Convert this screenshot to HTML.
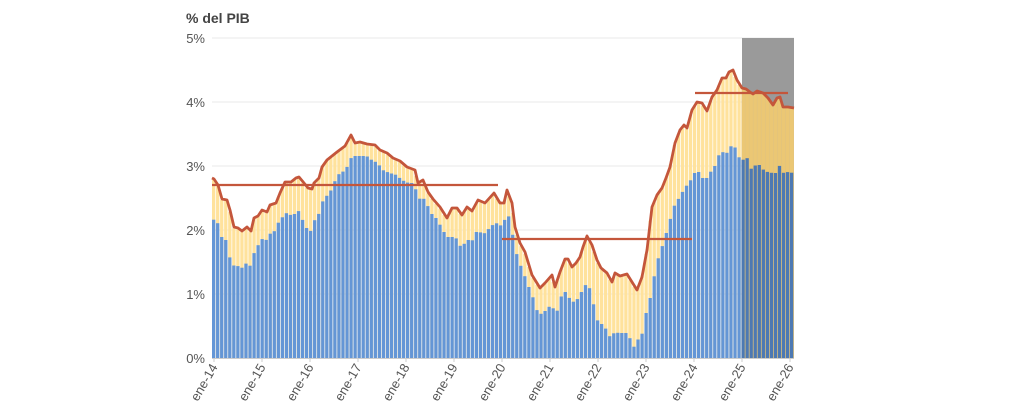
<!DOCTYPE html>
<html><head><meta charset="utf-8"><style>
html,body{margin:0;padding:0;background:#fff;width:1024px;height:412px;overflow:hidden}
svg{display:block;font-family:"Liberation Sans",sans-serif}
</style></head><body>
<svg id="c" width="1024" height="412" viewBox="0 0 1024 412" xmlns="http://www.w3.org/2000/svg">
<text x="186" y="23" font-size="14" font-weight="bold" fill="#444">% del PIB</text>
<g stroke="#e9e9e9" stroke-width="1">
<line x1="212" y1="38" x2="794" y2="38"/><line x1="212" y1="102" x2="794" y2="102"/>
<line x1="212" y1="166" x2="794" y2="166"/><line x1="212" y1="230" x2="794" y2="230"/>
<line x1="212" y1="294" x2="794" y2="294"/></g>
<g font-size="13" fill="#555" text-anchor="end">
<text x="205" y="43">5%</text><text x="205" y="107">4%</text><text x="205" y="171">3%</text>
<text x="205" y="235">2%</text><text x="205" y="299">1%</text><text x="205" y="363">0%</text></g>
<rect x="742" y="38" width="52" height="320" fill="#9a9a9a"/>
<g id="bars"></g>
<g id="xl" font-size="13" fill="#555" text-anchor="end"></g>
</svg>
<script>
var L=[[212,178],[214,179],[218,185],[222,199],[227,200],[230,210],[234,227],[238,228],[242,231],[247,227],[251,231],[254,218],[258,216],[262,210],[267,212],[270,205],[276,203],[280,193],[285,182],[291,182],[296,178],[299,177],[304,183],[308,188],[312,189],[314,183],[319,178],[322,167],[327,160],[337,152],[345,146],[351,135],[355,143],[360,142],[367,144],[375,145],[380,150],[387,153],[393,158],[400,161],[407,167],[415,170],[418,183],[423,180],[428,192],[433,199],[440,207],[447,218],[452,208],[457,208],[462,215],[467,207],[472,211],[478,200],[485,203],[494,193],[500,203],[504,203],[507,190],[512,203],[515,227],[520,243],[525,252],[532,275],[540,288],[545,283],[552,275],[555,287],[560,272],[565,259],[568,259],[572,267],[576,263],[580,257],[583,247],[587,236],[592,245],[597,260],[601,268],[607,273],[612,282],[615,273],[620,276],[627,274],[632,282],[637,290],[642,277],[647,250],[652,207],[657,195],[662,188],[666,178],[670,167],[675,143],[680,130],[684,125],[687,128],[692,110],[697,102],[702,103],[707,111],[712,97],[717,90],[722,78],[726,78],[729,72],[733,70],[737,80],[742,88],[746,89],[750,92],[753,94],[757,91],[763,93],[768,98],[773,105],[777,98],[780,97],[783,107],[788,107],[794,108]];
var B=[[212,218],[218,223],[223,240],[227,240],[230,257],[235,267],[238,266],[242,268],[247,263],[250,267],[254,254],[258,246],[262,239],[267,240],[271,233],[275,231],[279,222],[283,217],[287,213],[291,215],[295,214],[299,211],[302,218],[307,228],[311,231],[314,221],[318,218],[322,203],[327,196],[331,191],[338,175],[343,172],[347,168],[350,160],[353,156],[367,156],[372,160],[378,163],[383,170],[390,173],[397,175],[402,180],[409,183],[415,183],[418,200],[423,197],[427,203],[431,213],[435,216],[439,222],[443,230],[448,237],[456,237],[459,245],[463,247],[467,239],[472,242],[476,232],[480,232],[484,234],[490,228],[494,224],[498,223],[503,227],[507,213],[510,218],[515,245],[519,262],[523,269],[527,282],[532,293],[536,306],[539,315],[543,313],[548,309],[552,303],[556,317],[559,305],[563,292],[567,292],[572,303],[576,300],[580,298],[583,288],[588,283],[592,294],[595,310],[599,324],[603,324],[607,330],[611,338],[615,332],[619,333],[628,333],[632,342],[635,348],[639,338],[643,333],[647,310],[652,293],[656,267],[659,257],[663,245],[667,232],[671,218],[675,205],[680,197],[685,188],[690,182],[695,173],[699,172],[703,178],[708,178],[712,170],[716,165],[720,153],[724,152],[728,153],[732,145],[736,148],[739,157],[744,160],[748,158],[752,170],[756,165],[760,165],[764,170],[768,172],[773,173],[776,173],[779,164],[783,173],[787,172],[794,173]];
function f(A,x){for(var i=1;i<A.length;i++){if(x<=A[i][0]){var a=A[i-1],b=A[i];return a[1]+(b[1]-a[1])*(x-a[0])/(b[0]-a[0]);}}return A[A.length-1][1];}
var s='',w=582/144;
var pts=L.map(function(p){return p.join(',')}).join(' ');
s+='<polygon points="742,358 '+L.filter(function(p){return p[0]>=742}).map(function(p){return p.join(',')}).join(' ')+' 794,358" fill="#e3c47c"/>';
for(var i=0;i<144;i++){var x=212+i*w,cx=x+w/2,t=f(L,cx)+1,b=f(B,cx);var fc=cx>742;
 s+='<rect x="'+x.toFixed(2)+'" y="'+t.toFixed(1)+'" width="3.3" height="'+Math.max(0,358-t).toFixed(1)+'" fill="'+(fc?'#ebc774':'#ffe29c')+'"/>';
 s+='<rect x="'+x.toFixed(2)+'" y="'+b.toFixed(1)+'" width="3.3" height="'+(358-b).toFixed(1)+'" fill="'+(fc?'#4d79b3':'#6496d6')+'"/>';}
s+='<line x1="212" y1="358.5" x2="794" y2="358.5" stroke="#ccc"/>';
s+='<g stroke="#c4563b" stroke-width="2.2"><line x1="212" y1="185" x2="498" y2="185"/><line x1="502" y1="239" x2="692" y2="239"/><line x1="695" y1="93" x2="788" y2="93"/></g>';
s+='<polyline points="'+pts+'" fill="none" stroke="#c4563b" stroke-width="2.8" stroke-linejoin="round"/>';
document.getElementById('bars').innerHTML=s;
var t='';for(var k=0;k<=12;k++){var tx=214+48*k;var yy=(k+14);
 t+='<line x1="'+tx+'" y1="358" x2="'+tx+'" y2="362" stroke="#ccc"/>';
 t+='<text transform="translate('+(tx+4)+',367) rotate(-60)">ene-'+yy+'</text>';}
document.getElementById('xl').innerHTML=t;
</script>
</body></html>
